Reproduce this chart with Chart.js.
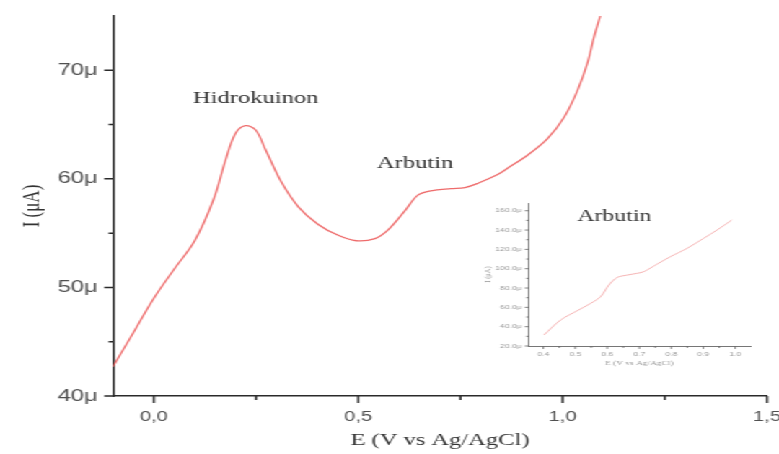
<!DOCTYPE html>
<html>
<head>
<meta charset="utf-8">
<script src="https://cdn.jsdelivr.net/npm/chart.js@4.4.1/dist/chart.umd.min.js"></script>
<style>
  body { margin: 0; background: #fff; overflow: hidden; }
  /* the whole figure is drawn narrow and stretched sideways */
  #wrap { position: relative; width: 545px; height: 454px; transform: scaleX(1.4426); transform-origin: 0 0; }
  #main { position: absolute; left: 0; top: 0; }
  #inset { position: absolute; left: 325.8px; top: 195px; }
</style>
</head>
<body>
<div id="wrap">
  <canvas id="main" width="545" height="454"></canvas>
  <canvas id="inset" width="215" height="185"></canvas>
</div>
<script>
// voltamogram utama: potensial (V) dan arus (μA)
const E_MAIN = [-0.10, -0.06, 0.00, 0.05, 0.10, 0.146, 0.176, 0.20, 0.224, 0.249, 0.273, 0.312, 0.354, 0.402,
                0.451, 0.495, 0.541, 0.573, 0.615, 0.646, 0.678, 0.727, 0.761, 0.793, 0.841, 0.866, 0.915, 0.963,
                1.004, 1.037, 1.061, 1.077, 1.092, 1.10];
const I_MAIN = [42.7, 45.2, 49.0, 51.7, 54.3, 58.1, 61.8, 64.2, 64.9, 64.5, 62.7, 59.7, 57.4, 55.8,
                54.8, 54.3, 54.5, 55.3, 57.1, 58.5, 58.9, 59.1, 59.2, 59.6, 60.4, 61.0, 62.2, 63.7,
                65.7, 68.2, 70.7, 73.1, 75.0, 76.2];
const X_TICKS = [0, 0.5, 1.0, 1.5];
const X_MINOR = [0.25, 0.75, 1.25];
const Y_TICKS = [40, 50, 60, 70];
const Y_MINOR = [45, 55, 65];

// inset arbutin
const E_INSET = [0.402, 0.454, 0.506, 0.548, 0.579, 0.605, 0.631, 0.662, 0.693, 0.714, 0.756, 0.797, 0.849, 0.901, 0.943, 0.989];
const I_INSET = [31.4, 46.9, 56.5, 64.1, 71.0, 83.1, 91.0, 93.4, 95.2, 96.9, 104.8, 112.4, 121.0, 131.4, 140.0, 150.3];
const INSET_X_TICKS = [0.4, 0.5, 0.6, 0.7, 0.8, 0.9, 1.0];
const INSET_X_MINOR = [0.45, 0.55, 0.65, 0.75, 0.85, 0.95];
const INSET_Y_TICKS = [20, 40, 60, 80, 100, 120, 140, 160];
const INSET_Y_MINOR = [30, 50, 70, 90, 110, 130, 150];

const SANS = "'Liberation Sans', Arial, sans-serif";
const SERIF = "'Liberation Serif', 'Times New Roman', serif";

// garis tick mayor/minor di luar sumbu
const tickMarks = {
  id: 'tickMarks',
  afterDraw(chart, args, opts) {
    const { ctx, chartArea } = chart;
    ctx.save();
    ctx.strokeStyle = opts.color;
    ctx.lineWidth = opts.width;
    ctx.beginPath();
    ['x', 'y'].forEach(id => {
      const scale = chart.scales[id];
      const o = opts[id];
      [[o.major, o.len[0]], [o.minor, o.len[1]]].forEach(([vals, len]) => {
        vals.forEach(v => {
          const p = scale.getPixelForValue(v);
          if (id === 'x') {
            ctx.moveTo(p, chartArea.bottom);
            ctx.lineTo(p, chartArea.bottom + len);
          } else {
            ctx.moveTo(chartArea.left, p);
            ctx.lineTo(chartArea.left - len, p);
          }
        });
      });
    });
    ctx.stroke();
    ctx.restore();
  }
};

// label teks di dalam area grafik
const textNotes = {
  id: 'textNotes',
  afterDatasetsDraw(chart, args, opts) {
    const { ctx, scales: { x, y } } = chart;
    ctx.save();
    ctx.fillStyle = opts.color;
    ctx.font = opts.font;
    ctx.textAlign = 'center';
    ctx.textBaseline = 'middle';
    opts.items.forEach(n => ctx.fillText(n.text, x.getPixelForValue(n.e), y.getPixelForValue(n.i)));
    ctx.restore();
  }
};

function sumbu(o) {
  return {
    type: 'linear',
    min: o.min,
    max: o.max,
    afterBuildTicks: s => { s.ticks = o.ticks.map(v => ({ value: v })); },
    afterFit: s => {
      if (o.horizontal) s.height = o.size; else s.width = o.size;
      s.paddingLeft = 0; s.paddingRight = 0; s.paddingTop = 0; s.paddingBottom = 0;
    },
    grid: { drawOnChartArea: false, drawTicks: true, tickLength: o.tickLength, color: 'rgba(0,0,0,0)' },
    border: { color: o.axisColor, width: o.axisWidth },
    ticks: {
      padding: o.padding,
      color: o.labelColor,
      font: { family: SANS, size: o.labelSize },
      maxRotation: 0,
      autoSkip: false,
      callback: o.format
    },
    title: {
      display: true,
      text: o.title,
      color: o.titleColor,
      font: { family: SERIF, size: o.titleSize },
      padding: o.titlePadding
    }
  };
}

new Chart(document.getElementById('main'), {
  type: 'line',
  data: {
    datasets: [{
      data: E_MAIN.map((e, i) => ({ x: e, y: I_MAIN[i] })),
      borderColor: '#ee6b6b',
      borderWidth: 1.3,
      pointRadius: 0,
      tension: 0.35
    }]
  },
  plugins: [tickMarks, textNotes],
  options: {
    responsive: false,
    animation: false,
    layout: { padding: { left: 0, top: 16, right: 13.3, bottom: 0 } },
    plugins: {
      legend: { display: false },
      tooltip: { enabled: false },
      tickMarks: {
        color: '#2a2a2a', width: 1.5,
        x: { major: X_TICKS, minor: X_MINOR, len: [7, 4] },
        y: { major: Y_TICKS, minor: Y_MINOR, len: [6, 3] }
      },
      textNotes: {
        color: '#333', font: `17px ${SERIF}`,
        items: [
          { text: 'Hidrokuinon', e: 0.249, i: 67.4 },
          { text: 'Arbutin', e: 0.639, i: 61.4 }
        ]
      }
    },
    scales: {
      x: sumbu({
        horizontal: true, min: -0.1, max: 1.5, ticks: X_TICKS, size: 58,
        tickLength: 7, padding: 6, labelColor: '#505050', labelSize: 14,
        axisColor: '#2a2a2a', axisWidth: 1.6,
        format: v => v.toFixed(1).replace('.', ','),
        title: 'E (V vs Ag/AgCl)', titleColor: '#333', titleSize: 17, titlePadding: { top: 0, bottom: 3 }
      }),
      y: sumbu({
        min: 40, max: 75, ticks: Y_TICKS, size: 78.3,
        tickLength: 6, padding: 4.5, labelColor: '#505050', labelSize: 16.5,
        axisColor: '#2a2a2a', axisWidth: 1.6,
        format: v => v + 'μ',
        title: 'I (μA)', titleColor: '#333', titleSize: 17, titlePadding: { top: 12, bottom: 0 }
      })
    }
  }
});

new Chart(document.getElementById('inset'), {
  type: 'line',
  data: {
    datasets: [{
      data: E_INSET.map((e, i) => ({ x: e, y: I_INSET[i] })),
      borderColor: '#f2a0a0',
      borderWidth: 0.8,
      pointRadius: 0,
      tension: 0.3
    }]
  },
  plugins: [tickMarks, textNotes],
  options: {
    responsive: false,
    animation: false,
    layout: { padding: { left: 0, top: 8, right: 20.9, bottom: 0 } },
    plugins: {
      legend: { display: false },
      tooltip: { enabled: false },
      tickMarks: {
        color: '#666', width: 0.8,
        x: { major: INSET_X_TICKS, minor: INSET_X_MINOR, len: [3, 2] },
        y: { major: INSET_Y_TICKS, minor: INSET_Y_MINOR, len: [2.5, 1.5] }
      },
      textNotes: {
        color: '#333', font: `16.5px ${SERIF}`,
        items: [{ text: 'Arbutin', e: 0.622, i: 154 }]
      }
    },
    scales: {
      x: sumbu({
        horizontal: true, min: 0.353, max: 1.047, ticks: INSET_X_TICKS, size: 34,
        tickLength: 3, padding: 2, labelColor: '#999', labelSize: 6,
        axisColor: '#666', axisWidth: 0.9,
        format: v => v.toFixed(1),
        title: 'E (V vs Ag/AgCl)', titleColor: '#999', titleSize: 6.5, titlePadding: { top: 0, bottom: 13 }
      }),
      y: sumbu({
        min: 20, max: 168, ticks: INSET_Y_TICKS, size: 40.2,
        tickLength: 2.5, padding: 2, labelColor: '#999', labelSize: 6,
        axisColor: '#666', axisWidth: 0.9,
        format: v => v.toFixed(1) + 'μ',
        title: 'I (μA)', titleColor: '#999', titleSize: 6.5, titlePadding: { top: 8, bottom: 0 }
      })
    }
  }
});
</script>
</body>
</html>
